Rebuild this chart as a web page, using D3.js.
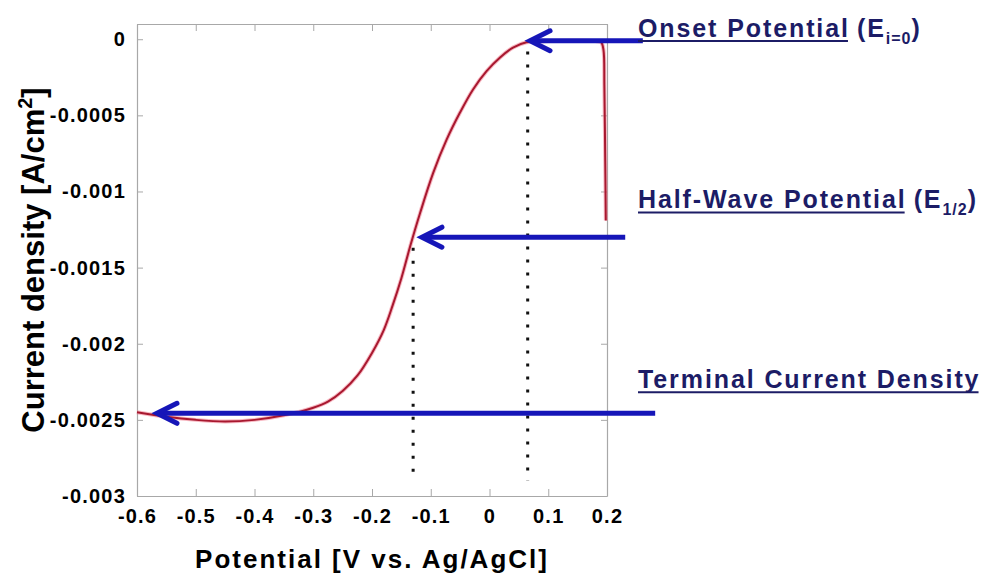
<!DOCTYPE html>
<html>
<head>
<meta charset="utf-8">
<script src="https://cdn.jsdelivr.net/npm/d3@7"></script>
<style>
  body { margin: 0; background: #fff; overflow: hidden; }
</style>
</head>
<body>
<svg id="chart" width="988" height="579" font-family="'Liberation Sans', Arial, sans-serif" font-weight="bold"></svg>
<script>
// LSV curve, potential (V vs Ag/AgCl) and current density (A/cm2), in sweep order
const potential = [0.198, 0.197, 0.1955, 0.194, 0.19, 0.18, 0.14, 0.1, 0.063, 0.04, 0.018,
  -0.005, -0.028, -0.05, -0.073, -0.096, -0.118, -0.135, -0.15, -0.165, -0.18, -0.2,
  -0.225, -0.25, -0.275, -0.3, -0.35, -0.4, -0.45, -0.5, -0.55, -0.6];
const current = [-0.00119, -0.0008, -0.0003, -0.00007, -0.00002, -0.000012, -0.00001, -0.000012,
  -0.00002, -0.000055, -0.00012, -0.00021, -0.00033, -0.00048, -0.00066, -0.00088, -0.00114,
  -0.00136, -0.00157, -0.00175, -0.00191, -0.00206, -0.00221, -0.00231, -0.00238, -0.00242,
  -0.00247, -0.0025, -0.00251, -0.0025, -0.00248, -0.00245];

const xTicks = [-0.6, -0.5, -0.4, -0.3, -0.2, -0.1, 0, 0.1, 0.2];
const xTickLabels = ["-0.6", "-0.5", "-0.4", "-0.3", "-0.2", "-0.1", "0", "0.1", "0.2"];
const yTicks = [0, -0.0005, -0.001, -0.0015, -0.002, -0.0025, -0.003];
const yTickLabels = ["0", "-0.0005", "-0.001", "-0.0015", "-0.002", "-0.0025", "-0.003"];

// dotted guide lines
const dropX = [-0.13, 0.065];
const dropTop = [-0.00137, -0.00008];
const dropBottom = -0.0029;

// annotation arrows (tail x, tip x, y)
const arrowTail = [0.261, 0.231, 0.282];
const arrowTip = [0.069, -0.115, -0.566];
const arrowY = [-0.00001, -0.0013, -0.002457];

// annotation labels
const labelMain = ["Onset Potential", "Half-Wave Potential", "Terminal Current Density"];
const labelSub = ["i=0", "1/2", null];
const labelBaseline = [36.7, 208.3, 388];

const svg = d3.select("#chart"),
      margin = { top: 24, right: 381, bottom: 83, left: 137 },
      width = +svg.attr("width"),
      height = +svg.attr("height"),
      innerWidth = width - margin.left - margin.right,
      innerHeight = height - margin.top - margin.bottom;

const axisGray = "#a8a8a8";
const blue = "#1616b8";
const navy = "#1c1c66";

svg.append("rect").attr("width", width).attr("height", height).attr("fill", "#fff");

const x = d3.scaleLinear().domain([-0.6, 0.2]).range([0, innerWidth]);
const y = d3.scaleLinear().domain([-0.003, 0.0001]).range([innerHeight, 0]);

const g = svg.append("g").attr("transform", `translate(${margin.left},${margin.top})`);

// axes: ticks point inward on all four sides
const styleAxis = (sel) => {
  sel.attr("font-family", null);
  sel.selectAll(".domain").attr("stroke", axisGray).attr("stroke-width", 1.2);
  sel.selectAll(".tick line").attr("stroke", axisGray).attr("stroke-width", 1);
};
const styleTickText = (sel) => sel.selectAll("text")
  .attr("font-size", 20)
  .attr("letter-spacing", 1.2).attr("fill", "#000");

g.append("g")
  .attr("transform", `translate(0,${innerHeight})`)
  .call(d3.axisBottom(x).tickValues(xTicks).tickSize(-7).tickSizeOuter(0).tickPadding(12.8)
    .tickFormat((d, i) => xTickLabels[i]))
  .call(styleAxis)
  .call(styleTickText);

g.append("g")
  .call(d3.axisLeft(y).tickValues(yTicks).tickSize(-6).tickSizeOuter(0).tickPadding(11)
    .tickFormat((d, i) => yTickLabels[i]))
  .call(styleAxis)
  .call(styleTickText);

g.append("g")
  .call(d3.axisTop(x).tickValues(xTicks).tickSize(-7).tickSizeOuter(0).tickFormat(""))
  .call(styleAxis);

g.append("g")
  .attr("transform", `translate(${innerWidth},0)`)
  .call(d3.axisRight(y).tickValues(yTicks).tickSize(-6).tickSizeOuter(0).tickFormat(""))
  .call(styleAxis);

// dotted guide lines
g.selectAll(".drop")
  .data(dropX)
  .join("line")
  .attr("class", "drop")
  .attr("x1", d => x(d)).attr("x2", d => x(d))
  .attr("y1", (d, i) => y(dropTop[i])).attr("y2", y(dropBottom))
  .attr("stroke", "#111").attr("stroke-width", 3)
  .attr("stroke-dasharray", "3,10");

// the curve
const curveData = potential.map((p, i) => ({ p, c: current[i] }));
const line = d3.line().x(d => x(d.p)).y(d => y(d.c)).curve(d3.curveCatmullRom.alpha(0.5));

g.append("path").datum(curveData)
  .attr("d", line).attr("fill", "none")
  .attr("stroke", "#f07d90").attr("stroke-width", 4).attr("stroke-opacity", 0.55);
g.append("path").datum(curveData)
  .attr("d", line).attr("fill", "none")
  .attr("stroke", "#a8182f").attr("stroke-width", 2);

// arrows
const arrows = g.selectAll(".arrow")
  .data(arrowY)
  .join("g")
  .attr("class", "arrow");

arrows.append("line")
  .attr("x1", (d, i) => x(arrowTail[i])).attr("x2", (d, i) => x(arrowTip[i]) + 2)
  .attr("y1", d => y(d)).attr("y2", d => y(d))
  .attr("stroke", blue).attr("stroke-width", 5);

arrows.append("path")
  .attr("d", (d, i) => {
    const tx = x(arrowTip[i]), ty = y(d);
    return `M${tx + 20},${ty - 10}L${tx},${ty}L${tx + 20},${ty + 10}`;
  })
  .attr("fill", "none").attr("stroke", blue).attr("stroke-width", 5)
  .attr("stroke-linecap", "round").attr("stroke-linejoin", "miter");

// annotation labels
const labelX = 638;
const ls = 1.9;
labelMain.forEach((txt, i) => {
  const base = labelBaseline[i];
  const t = svg.append("text")
    .attr("x", labelX).attr("y", base)
    .attr("font-size", 25).attr("letter-spacing", ls).attr("fill", navy)
    .text(txt);
  const len = t.node().getComputedTextLength() - ls;
  svg.append("line")
    .attr("x1", labelX).attr("x2", labelX + len)
    .attr("y1", base + 4.3).attr("y2", base + 4.3)
    .attr("stroke", navy).attr("stroke-width", 2);
  if (labelSub[i]) {
    const s = svg.append("text")
      .attr("x", labelX + len + 9).attr("y", base)
      .attr("font-size", 25).attr("letter-spacing", ls).attr("fill", navy);
    s.append("tspan").text("(E");
    s.append("tspan").attr("font-size", 16).attr("letter-spacing", 1).attr("dy", 7).text(labelSub[i]);
    s.append("tspan").attr("dy", -7).text(")");
  }
});

// axis titles
svg.append("text")
  .attr("x", margin.left + innerWidth / 2).attr("y", 568)
  .attr("text-anchor", "middle").attr("font-size", 26).attr("letter-spacing", 2)
  .attr("fill", "#000")
  .text("Potential [V vs. Ag/AgCl]");

const yTitle = svg.append("text")
  .attr("transform", `translate(44,${margin.top + innerHeight / 2}) rotate(-90)`)
  .attr("text-anchor", "middle").attr("font-size", 31).attr("fill", "#000");
yTitle.append("tspan").text("Current density [A/cm");
yTitle.append("tspan").attr("font-size", 20).attr("dy", -12).text("2");
yTitle.append("tspan").attr("dy", 12).text("]");
</script>
</body>
</html>
